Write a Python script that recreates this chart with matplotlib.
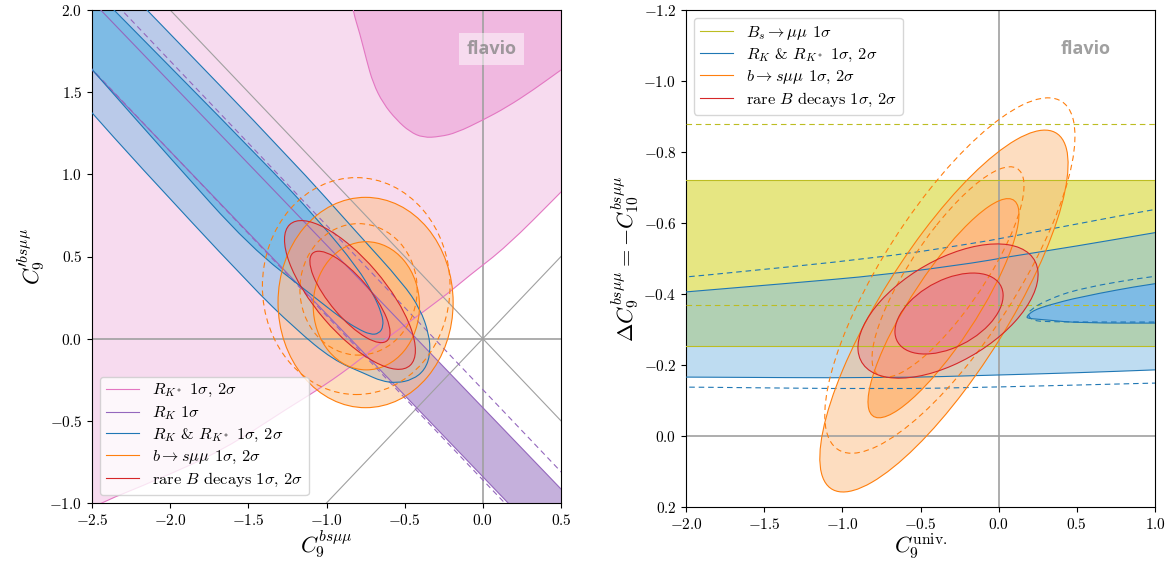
import matplotlib
matplotlib.use('Agg')
import numpy as np
import matplotlib.pyplot as plt
from matplotlib.patches import Ellipse, PathPatch
from matplotlib.path import Path
from matplotlib.lines import Line2D
from matplotlib.ticker import FuncFormatter, MultipleLocator

plt.rcParams['mathtext.fontset'] = 'cm'
plt.rcParams['font.family'] = ['cmr10', 'DejaVu Serif']

# line colours and (opaque 1 sigma) fill colours
PINK, PINK_F = '#e377c2', '#f0b8e0'
PURPLE, PURPLE_F = '#9467bd', '#c5b0dc'
BLUE, BLUE_F = '#1f77b4', '#7ebbe5'
ORANGE, ORANGE_F = '#ff7f0e', '#fdbc82'
RED, RED_F = '#d62728', '#e98c8c'
OLIVE, OLIVE_F = '#bcbd22', '#e6e682'

# ---------------- left panel: C9 vs C9' ----------------
# R_K* 1 sigma / 2 sigma region boundaries (+ corners outside the axes)
rks_1s_x = [-0.85, -0.830, -0.787, -0.744, -0.702, -0.638, -0.552, -0.467, -0.382, -0.275,
            -0.168, 0.002, 0.152, 0.322, 0.493, 0.6]
rks_1s_y = [2.1, 1.990, 1.858, 1.696, 1.554, 1.432, 1.331, 1.259, 1.223, 1.229,
            1.253, 1.331, 1.408, 1.513, 1.631, 1.70]
rks_1s_corners = [(0.6, 2.1)]
rks_2s_x = [-2.6, -2.55, -2.449, -2.086, -1.660, -1.233, -1.020, -0.787, -0.659, -0.275,
            -0.083, 0.152, 0.493, 0.6]
rks_2s_y = [-1.1, -1.06, -1.0, -0.860, -0.678, -0.414, -0.290, -0.130, -0.026, 0.235,
            0.387, 0.560, 0.885, 0.99]
rks_2s_corners = [(0.6, 2.1), (-2.6, 2.1)]

# R_K 1 sigma band: C9' = slope * C9 + intercept
rk_slope = -0.99
rk_band = (-0.84, -0.42)
rk_dashed_slope = -1.0
rk_dashed = (-0.86, -0.31)

# R_K & R_K* combined
rkk_1s_x = [-2.463, -2.359, -1.413, -1.05, -0.80, -0.70, -0.645, -0.635, -0.665,
            -0.72, -0.80, -0.90, -1.10, -1.489, -1.988, -2.487, -2.6]
rkk_1s_y = [2.1, 2.0, 1.087, 0.72, 0.43, 0.27, 0.15, 0.075, 0.03,
            0.025, 0.06, 0.12, 0.27, 0.558, 1.087, 1.623, 1.75]
rkk_2s_x = [-2.25, -2.148, -1.221, -0.80, -0.511, -0.40, -0.345, -0.335, -0.37,
            -0.45, -0.552, -0.65, -0.75, -0.958, -1.20, -1.489, -2.231, -2.487, -2.6]
rkk_2s_y = [2.1, 2.0, 1.087, 0.64, 0.337, 0.18, 0.03, -0.09, -0.19,
            -0.25, -0.27, -0.258, -0.215, -0.13, 0.06, 0.327, 1.087, 1.361, 1.48]
rkk_corners = [(-2.6, 2.1)]

# ellipses: (centre x, centre y, width, height, angle) for 2 sigma, 1 sigma
bsmm_left = [(-0.75, 0.22, 1.12, 1.28, 0.0), (-0.745, 0.20, 0.68, 0.78, 0.0)]
bsmm_left_dashed = [(-0.81, 0.32, 1.20, 1.32, 0.0), (-0.795, 0.30, 0.75, 0.80, 0.0)]
rare_left = [(-0.85, 0.266, 1.152, 0.44, -48.0), (-0.85, 0.254, 0.714, 0.25, -48.0)]

# ---------------- right panel: C9 univ vs C9 = -C10 ----------------
bs_band = (-0.721, -0.254)
bs_dashed = (-0.879, -0.369)

rkk_r_up_x = [-2.1, -2.0, -1.4, -0.721, -0.119, 0.009, 0.5, 0.987, 1.1]
rkk_r_up_y = [-0.402, -0.406, -0.428, -0.454, -0.490, -0.501, -0.535, -0.572, -0.58]
rkk_r_lo_x = [1.1, 0.987, 0.5, 0.009, -0.721, -2.0, -2.1]
rkk_r_lo_y = [-0.188, -0.186, -0.178, -0.172, -0.163, -0.166, -0.166]
blob_x = [1.1, 0.989, 0.520, 0.307, 0.243, 0.205, 0.179, 0.185, 0.22, 0.307, 0.520, 1.1]
blob_y = [-0.435, -0.430, -0.392, -0.367, -0.357, -0.348, -0.336, -0.332, -0.330, -0.327, -0.318, -0.318]

rkk_r_dup_x = [-2.1, -1.981, -0.721, -0.119, 0.009, 0.987, 1.1]
rkk_r_dup_y = [-0.444, -0.448, -0.504, -0.546, -0.556, -0.638, -0.645]
rkk_r_dlo_x = [-2.1, -2.0, -0.721, 0.009, 0.987, 1.1]
rkk_r_dlo_y = [-0.138, -0.138, -0.132, -0.138, -0.149, -0.150]
blob_d_x = [1.1, 0.989, 0.520, 0.307, 0.20, 0.185, 0.22, 0.307, 0.520, 1.1]
blob_d_y = [-0.455, -0.451, -0.416, -0.383, -0.355, -0.340, -0.325, -0.322, -0.321, -0.321]

bsmm_right = [(-0.35, -0.352, 1.814, 0.52, -30.3), (-0.353, -0.360, 1.112, 0.278, -30.8)]
bsmm_right_dashed = [(-0.312, -0.452, 1.806, 0.55, -29.1), (-0.324, -0.462, 1.098, 0.302, -28.9)]
rare_right = [(-0.324, -0.352, 1.172, 0.312, -10.9), (-0.3175, -0.345, 0.70, 0.202, -9.1)]

LW = 0.8
DASH = (0, (5, 3.5))


def open_path(x, y):
    # quadratic bezier through the midpoints, so the outline is smooth
    p = np.column_stack([x, y])
    verts, codes = [p[0]], [Path.MOVETO]
    for i in range(1, len(p) - 1):
        verts += [p[i], (p[i] + p[i + 1]) / 2]
        codes += [Path.CURVE3, Path.CURVE3]
    verts.append(p[-1])
    codes.append(Path.LINETO)
    return Path(verts, codes)


def region_path(curves, corners=()):
    verts, codes = [], []
    for k, (x, y) in enumerate(curves):
        p = open_path(x, y)
        c = list(p.codes)
        if k > 0:
            c[0] = Path.LINETO
        verts += list(p.vertices)
        codes += c
    for pt in corners:
        verts.append(pt)
        codes.append(Path.LINETO)
    verts.append(verts[0])
    codes.append(Path.CLOSEPOLY)
    return Path(verts, codes)


def ell(e, **kw):
    return Ellipse((e[0], e[1]), e[2], e[3], angle=e[4], **kw)


def shape(curves, corners=(), **kw):
    return PathPatch(region_path(curves, corners), **kw)


def two_level(ax, shapes, fill, edge):
    # 2 sigma: half transparent, 1 sigma: opaque, outlines on top
    ax.add_patch(shapes[0](facecolor=fill, alpha=0.5, lw=0, zorder=1))
    ax.add_patch(shapes[1](facecolor=fill, lw=0, zorder=1))
    for s in shapes:
        ax.add_patch(s(fill=False, edgecolor=edge, lw=LW, zorder=3))


def dashed_ellipses(ax, ells, color):
    for e in ells:
        ax.add_patch(ell(e, fill=False, edgecolor=color, lw=LW, linestyle=DASH, zorder=3))


def dashed_curve(ax, x, y, color):
    ax.add_patch(PathPatch(open_path(x, y), fill=False, edgecolor=color, lw=LW,
                           linestyle=DASH, zorder=3))


def fmt(v, pos):
    return f'${v + 0:.1f}$'


def flavio_tag(ax):
    ax.text(0.852, 0.921, 'flavio', transform=ax.transAxes, ha='center', va='center',
            fontsize=13, fontweight='bold', family='Open Sans', color='gray', alpha=0.75,
            zorder=6, bbox=dict(boxstyle='square,pad=0.4', facecolor='white',
                                edgecolor='none', alpha=0.5))


LEG = dict(fontsize=11.8, labelspacing=0.3, borderpad=0.35)

fig = plt.figure(figsize=(11.75, 5.61), dpi=100)
ax1 = fig.add_axes([92 / 1175, 1 - 503 / 561, 469 / 1175, 493 / 561])
ax2 = fig.add_axes([686 / 1175, 1 - 507 / 561, 469 / 1175, 497 / 561])

# ---- left ----
two_level(ax1, [lambda **k: shape([(rks_2s_x, rks_2s_y)], rks_2s_corners, **k),
                lambda **k: shape([(rks_1s_x, rks_1s_y)], rks_1s_corners, **k)],
          PINK_F, PINK)

xs = np.array([-2.6, 0.6])
ax1.fill_between(xs, rk_slope * xs + rk_band[0], rk_slope * xs + rk_band[1],
                 color=PURPLE_F, lw=0, zorder=1)
for c in rk_band:
    ax1.plot(xs, rk_slope * xs + c, color=PURPLE, lw=LW, zorder=3)
for c in rk_dashed:
    ax1.plot(xs, rk_dashed_slope * xs + c, color=PURPLE, lw=LW, linestyle=DASH, zorder=3)

two_level(ax1, [lambda **k: shape([(rkk_2s_x, rkk_2s_y)], rkk_corners, **k),
                lambda **k: shape([(rkk_1s_x, rkk_1s_y)], rkk_corners, **k)],
          BLUE_F, BLUE)

two_level(ax1, [lambda **k: ell(bsmm_left[0], **k),
                lambda **k: ell(bsmm_left[1], **k)], ORANGE_F, ORANGE)
dashed_ellipses(ax1, bsmm_left_dashed, ORANGE)

two_level(ax1, [lambda **k: ell(rare_left[0], **k),
                lambda **k: ell(rare_left[1], **k)], RED_F, RED)

ax1.axhline(0, color='#a0a0a0', lw=1.2, zorder=2)
ax1.axvline(0, color='#a0a0a0', lw=1.2, zorder=2)
ax1.axline((0, 0), slope=1, color='#a0a0a0', lw=0.8, zorder=2)
ax1.axline((0, 0), slope=-1, color='#a0a0a0', lw=0.8, zorder=2)

ax1.set_xlim(-2.5, 0.5)
ax1.set_ylim(-1.0, 2.0)
ax1.xaxis.set_major_locator(MultipleLocator(0.5))
ax1.yaxis.set_major_locator(MultipleLocator(0.5))
ax1.set_xlabel(r'$C_9^{bs\mu\mu}$', fontsize=16, labelpad=0)
ax1.set_ylabel(r'$C_9^{\prime bs\mu\mu}$', fontsize=16, labelpad=2)

handles1 = [Line2D([], [], color=c, lw=LW) for c in (PINK, PURPLE, BLUE, ORANGE, RED)]
labels1 = [r'$R_{K^*}$ $1\sigma$, $2\sigma$', r'$R_K$ $1\sigma$',
           r'$R_K$ & $R_{K^*}$ $1\sigma$, $2\sigma$', r'$b\to s\mu\mu$ $1\sigma$, $2\sigma$',
           r'rare $B$ decays $1\sigma$, $2\sigma$']
leg1 = ax1.legend(handles1, labels1, loc='lower left', **LEG)
leg1.set_zorder(10)
flavio_tag(ax1)

# ---- right ----
ax2.axhspan(bs_band[0], bs_band[1], facecolor=OLIVE_F, lw=0, zorder=1)
for v in bs_band:
    ax2.axhline(v, color=OLIVE, lw=LW, zorder=3)
for v in bs_dashed:
    ax2.axhline(v, color=OLIVE, lw=LW, linestyle=DASH, zorder=3)

two_level(ax2, [lambda **k: shape([(rkk_r_up_x, rkk_r_up_y), (rkk_r_lo_x, rkk_r_lo_y)], **k),
                lambda **k: shape([(blob_x, blob_y)], **k)], BLUE_F, BLUE)
dashed_curve(ax2, rkk_r_dup_x, rkk_r_dup_y, BLUE)
dashed_curve(ax2, rkk_r_dlo_x, rkk_r_dlo_y, BLUE)
dashed_curve(ax2, blob_d_x, blob_d_y, BLUE)

two_level(ax2, [lambda **k: ell(bsmm_right[0], **k),
                lambda **k: ell(bsmm_right[1], **k)], ORANGE_F, ORANGE)
dashed_ellipses(ax2, bsmm_right_dashed, ORANGE)

two_level(ax2, [lambda **k: ell(rare_right[0], **k),
                lambda **k: ell(rare_right[1], **k)], RED_F, RED)

ax2.axhline(0, color='#a0a0a0', lw=1.2, zorder=2)
ax2.axvline(0, color='#a0a0a0', lw=1.2, zorder=2)

ax2.set_xlim(-2.0, 1.0)
ax2.set_ylim(0.2, -1.2)
ax2.xaxis.set_major_locator(MultipleLocator(0.5))
ax2.yaxis.set_major_locator(MultipleLocator(0.2))
ax2.set_xlabel(r'$C_9^{\mathrm{univ.}}$', fontsize=16, labelpad=0)
ax2.set_ylabel(r'$\Delta C_9^{bs\mu\mu} = -C_{10}^{bs\mu\mu}$', fontsize=16, labelpad=2)

handles2 = [Line2D([], [], color=c, lw=LW) for c in (OLIVE, BLUE, ORANGE, RED)]
labels2 = [r'$B_s\to\mu\mu$ $1\sigma$', r'$R_K$ & $R_{K^*}$ $1\sigma$, $2\sigma$',
           r'$b\to s\mu\mu$ $1\sigma$, $2\sigma$',
           r'rare $B$ decays $1\sigma$, $2\sigma$']
leg2 = ax2.legend(handles2, labels2, loc='upper left', **LEG)
leg2.set_zorder(10)
flavio_tag(ax2)

for ax in (ax1, ax2):
    ax.xaxis.set_major_formatter(FuncFormatter(fmt))
    ax.yaxis.set_major_formatter(FuncFormatter(fmt))
    ax.tick_params(labelsize=11)

fig.savefig('out.png', dpi=100)
